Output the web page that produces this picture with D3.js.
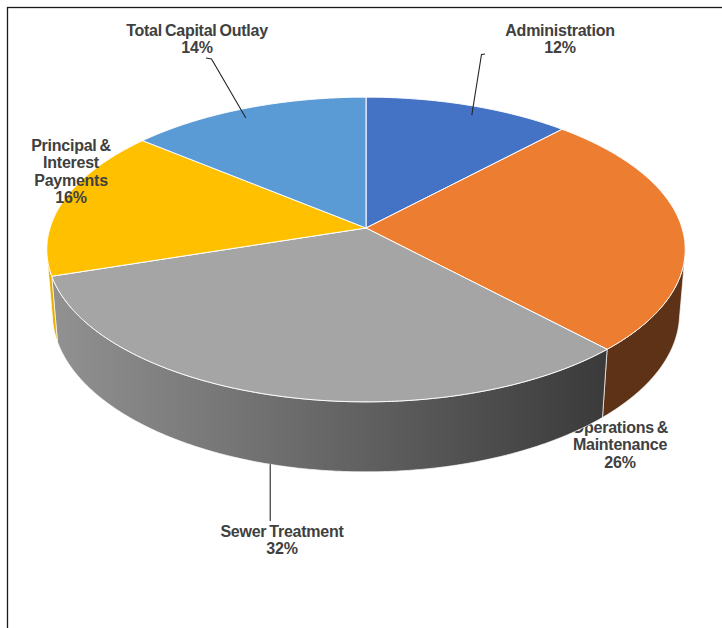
<!DOCTYPE html>
<html>
<head>
<meta charset="utf-8">
<script src="https://cdn.jsdelivr.net/npm/d3@7/dist/d3.min.js"></script>
<style>
  html, body { margin: 0; padding: 0; background: #ffffff; }
  svg { display: block; }
  .lbl { font-family: "Liberation Sans", Arial, sans-serif; font-weight: bold; font-size: 16px;
         fill: #404040; letter-spacing: -0.25px; word-spacing: -1.2px; }
</style>
</head>
<body>
<svg id="chart" width="722" height="628"></svg>
<script>
// Wastewater fund expenditures, share of total (%)
const categories = ["Administration", "Operations & Maintenance", "Sewer Treatment",
                    "Principal & Interest Payments", "Total Capital Outlay"];
const shares = [12, 26, 32, 16, 14];
const labelLines = [["Administration"], ["Operations &", "Maintenance"], ["Sewer Treatment"],
                    ["Principal &", "Interest", "Payments"], ["Total Capital Outlay"]];

// Office palette for the top faces and the darker side walls
const topColors  = ["#4472C4", "#ED7D31", "#A5A5A5", "#FFC000", "#5B9BD5"];
const sideColors = ["#2F5597", "#5E3216", "url(#sewerSide)", "#E8AE00", "#41719C"];

// Label placement: centre x, first baseline, leader start points and anchor nudge (degrees)
const labelLayout = [
  { x: 560, y: 36,  leader: [[485, 54], [481.5, 54.5]], nudge: 2.3 },
  { x: 620, y: 433, leader: null },
  { x: 282, y: 537, leader: "down", nudge: 1.1 },
  { x: 71,  y: 151, leader: null },
  { x: 197, y: 36,  leader: [[206, 58], [211.5, 59]], nudge: -2.1 }
];
const lineHeight = 17.3;

const svg = d3.select("#chart");
const W = 722, H = 628;

// Frame of the chart area
svg.append("rect")
  .attr("x", 7.5).attr("y", 7.5).attr("width", W + 20).attr("height", H + 20)
  .attr("fill", "none").attr("stroke", "#1a1a1a").attr("stroke-width", 1.3);

const defs = svg.append("defs");
const grad = defs.append("linearGradient").attr("id", "sewerSide")
  .attr("gradientUnits", "userSpaceOnUse")
  .attr("x1", 55).attr("y1", 0).attr("x2", 600).attr("y2", 0);
grad.append("stop").attr("offset", 0).attr("stop-color", "#919191");
grad.append("stop").attr("offset", 0.55).attr("stop-color", "#626262");
grad.append("stop").attr("offset", 1).attr("stop-color", "#3b3b3b");

// Perspective projection of a disc of radius 1 seen from above
const cx = 366, cy = 228, focal = 1975, dist = 6.25;
const tilt = 28.2 * Math.PI / 180, sa = Math.sin(tilt), ca = Math.cos(tilt);
const thickness = 0.2313;

function project(phi, r, z) {
  const X = r * Math.sin(phi), Y = r * Math.cos(phi);
  const yc = Y * sa + z * ca;
  const zc = dist + Y * ca - z * sa;
  return [cx + focal * X / zc, cy - focal * yc / zc];
}

const pie = d3.pie().sort(null).startAngle(0).endAngle(2 * Math.PI);
const arcs = pie(shares);

// Side wall faces the viewer where cos(phi) < -1/(dist*cos(tilt))
const phiMin = Math.acos(-1 / (dist * ca));
const phiMax = 2 * Math.PI - phiMin;

const line = d3.line();
function rim(a0, a1, r, z) {
  const n = Math.max(2, Math.ceil(Math.abs(a1 - a0) / (0.4 * Math.PI / 180)));
  return d3.range(n + 1).map(i => project(a0 + (a1 - a0) * i / n, r, z));
}

arcs.forEach((a, i) => {
  const g = svg.append("g");

  // outer side wall
  const w0 = Math.max(a.startAngle, phiMin), w1 = Math.min(a.endAngle, phiMax);
  if (w0 < w1) {
    const pts = rim(w0, w1, 1, 0).concat(rim(w1, w0, 1, -thickness));
    g.append("path").attr("d", line(pts) + "Z")
      .attr("fill", sideColors[i])
      .attr("stroke", "#ffffff").attr("stroke-width", 0.8).attr("stroke-opacity", 0.85)
      .attr("stroke-linejoin", "round");
  }

  // top face
  const topPts = [project(0, 0, 0)].concat(rim(a.startAngle, a.endAngle, 1, 0));
  g.append("path").attr("d", line(topPts) + "Z")
    .attr("fill", topColors[i])
    .attr("stroke", "#ffffff").attr("stroke-width", 1).attr("stroke-linejoin", "round");

  // data label
  const lay = labelLayout[i];
  const lines = labelLines[i].concat([shares[i] + "%"]);
  const t = g.append("text").attr("class", "lbl").attr("text-anchor", "middle");
  lines.forEach((s, k) => {
    t.append("tspan").attr("x", lay.x).attr("y", lay.y + k * lineHeight).text(s);
  });

  // leader line
  const mid = (a.startAngle + a.endAngle) / 2 + (lay.nudge || 0) * Math.PI / 180;
  if (Array.isArray(lay.leader)) {
    const end = project(mid, 0.925, 0);
    g.append("path").attr("d", line(lay.leader.concat([end])))
      .attr("fill", "none").attr("stroke", "#262626").attr("stroke-width", 1.1);
  } else if (lay.leader === "down") {
    const end = project(mid, 1, -thickness);
    const top = lay.y - 16;
    g.append("path").attr("d", line([[end[0], top], end]))
      .attr("fill", "none").attr("stroke", "#262626").attr("stroke-width", 1.1);
  }
});
</script>
</body>
</html>
